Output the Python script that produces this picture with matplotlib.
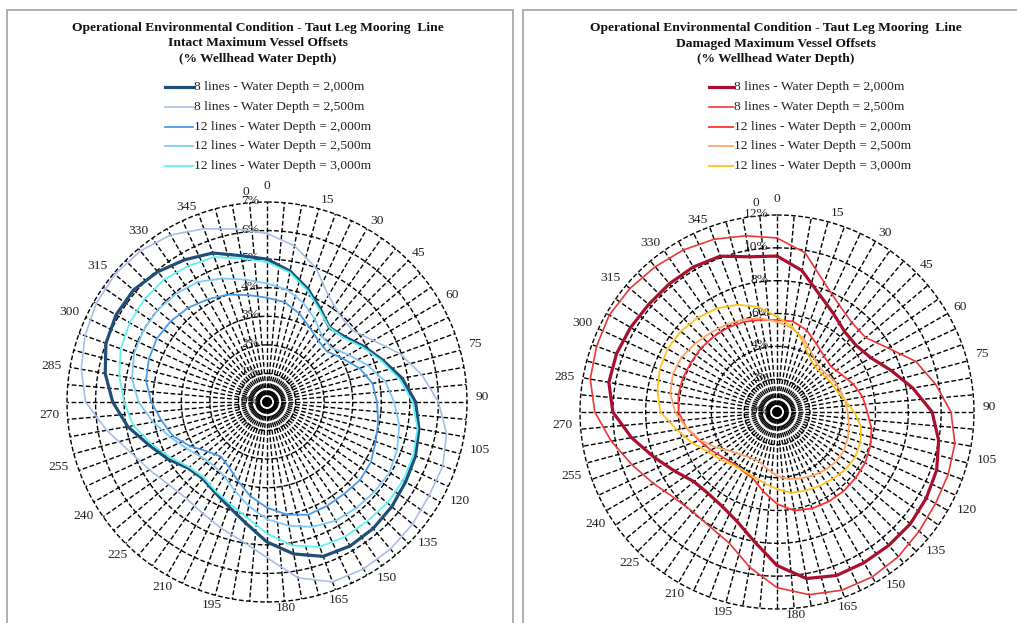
import numpy as np
import matplotlib
matplotlib.use("Agg")
import matplotlib.pyplot as plt
from matplotlib.lines import Line2D
from matplotlib.patches import Rectangle
from matplotlib.transforms import offset_copy

W, H, DPI = 1017, 623, 100
SERIF = ["Liberation Serif", "DejaVu Serif"]
FS = 9.7

# ---------------- data (offset, % of wellhead water depth) ----------------
angles_deg = list(range(0, 360, 10))
tick_angles = list(range(0, 360, 15))

intact_labels = ["8 lines - Water Depth = 2,000m", "8 lines - Water Depth = 2,500m",
                 "12 lines - Water Depth = 2,000m", "12 lines - Water Depth = 2,500m",
                 "12 lines - Water Depth = 3,000m"]
damaged_labels = ["8 lines - Water Depth = 2,000m", "8 lines - Water Depth = 2,500m",
                  "12 lines - Water Depth = 2,000m", "12 lines - Water Depth = 2,500m",
                  "12 lines - Water Depth = 3,000m"]

intact_8_2000 = [5.0, 4.65, 4.2, 3.75, 3.4, 3.55, 3.9, 4.3, 4.8, 5.2, 5.4, 5.53,
                 5.6, 5.7, 5.78, 5.82, 5.75, 5.4, 4.9, 4.3, 3.9, 3.65, 3.5, 3.6,
                 4.0, 4.4, 4.95, 5.4, 5.75, 6.0, 6.1, 6.1, 5.95, 5.75, 5.55, 5.2]
intact_8_2500 = [5.9, 5.55, 5.0, 4.3, 3.97, 3.9, 4.3, 4.95, 5.5, 6.0, 6.38, 6.55,
                 6.55, 6.65, 6.72, 6.75, 6.7, 6.25, 5.45, 4.95, 4.7, 4.5, 4.4, 4.5,
                 4.75, 5.1, 5.7, 6.35, 6.6, 6.78, 6.9, 6.95, 6.9, 6.75, 6.45, 6.15]
intact_12_2000 = [3.65, 3.55, 3.3, 3.0, 2.8, 2.75, 3.05, 3.45, 3.75, 3.85, 3.95, 4.05,
                  4.2, 4.25, 4.2, 4.2, 4.2, 4.0, 3.7, 3.35, 2.95, 2.65, 2.5, 2.7,
                  3.1, 3.5, 3.75, 4.05, 4.3, 4.4, 4.45, 4.4, 4.3, 4.15, 4.0, 3.8]
intact_12_2500 = [4.15, 4.0, 3.7, 3.35, 3.0, 2.95, 3.3, 3.75, 4.2, 4.45, 4.7, 4.85,
                  4.95, 4.9, 4.85, 4.8, 4.65, 4.4, 4.1, 3.7, 3.3, 3.0, 2.9, 3.0,
                  3.25, 3.6, 4.05, 4.5, 4.8, 4.95, 5.0, 5.0, 4.95, 4.85, 4.6, 4.35]
intact_12_3000 = [4.9, 4.6, 4.15, 3.7, 3.4, 3.5, 3.85, 4.25, 4.7, 5.1, 5.35, 5.45,
                  5.5, 5.5, 5.45, 5.45, 5.4, 5.1, 4.6, 4.1, 3.8, 3.6, 3.45, 3.55,
                  3.9, 4.3, 4.75, 5.0, 5.25, 5.45, 5.55, 5.6, 5.6, 5.5, 5.4, 5.1]

damaged_8_2000 = [9.5, 8.75, 7.6, 6.9, 6.4, 6.3, 6.6, 7.4, 8.4, 9.45, 10.0, 10.35,
                  10.5, 10.6, 10.6, 10.6, 10.6, 10.3, 9.35, 8.0, 7.1, 6.65, 6.5, 6.6,
                  7.2, 8.0, 9.0, 10.0, 10.4, 10.4, 10.3, 10.2, 10.2, 10.2, 10.1, 9.6]
damaged_8_2500 = [10.6, 9.85, 8.4, 7.55, 7.1, 7.05, 7.8, 9.0, 9.8, 10.6, 11.0, 11.1,
                  11.15, 11.3, 11.5, 11.6, 11.55, 11.3, 10.7, 9.6, 8.5, 8.1, 7.95, 8.15,
                  8.7, 9.4, 10.25, 11.1, 11.55, 11.7, 11.8, 11.7, 11.55, 11.4, 11.2, 10.9]
damaged_12_2000 = [5.6, 5.6, 5.3, 4.8, 4.45, 4.3, 4.55, 4.95, 5.3, 5.5, 5.85, 6.05,
                   6.2, 6.25, 6.3, 6.3, 6.25, 6.1, 5.6, 4.9, 4.3, 4.15, 4.1, 4.3,
                   4.65, 5.05, 5.6, 6.0, 6.1, 6.1, 6.05, 6.05, 6.0, 5.95, 5.85, 5.7]
damaged_12_2500 = [5.5, 5.2, 4.75, 4.2, 3.8, 3.75, 3.95, 4.05, 4.2, 4.3, 4.45, 4.6,
                   4.7, 4.7, 4.6, 4.45, 4.3, 4.15, 3.9, 3.5, 3.2, 3.2, 3.4, 3.7,
                   4.3, 5.0, 5.6, 6.2, 6.6, 6.75, 6.7, 6.5, 6.3, 6.15, 6.0, 5.8]
damaged_12_3000 = [5.8, 5.3, 4.6, 3.9, 3.6, 3.6, 3.75, 3.85, 4.2, 4.7, 5.2, 5.4,
                   5.5, 5.45, 5.3, 5.2, 5.1, 5.0, 4.7, 4.4, 4.2, 4.1, 4.2, 4.5,
                   4.85, 5.5, 6.2, 7.1, 7.4, 7.6, 7.7, 7.65, 7.5, 7.3, 6.95, 6.5]

intact_series = [intact_8_2000, intact_8_2500, intact_12_2000, intact_12_2500, intact_12_3000]
damaged_series = [damaged_8_2000, damaged_8_2500, damaged_12_2000, damaged_12_2500, damaged_12_3000]

intact_colors = ["#1F4E79", "#A9BDE8", "#4A9BE6", "#7FCBF7", "#5FF3F0"]
damaged_colors = ["#A8102E", "#E8383A", "#FF3434", "#FFA564", "#FFC21E"]
widths = [2.3, 1.2, 1.3, 1.3, 1.3]

titles_intact = ["Operational Environmental Condition - Taut Leg Mooring  Line",
                 "Intact Maximum Vessel Offsets", "(% Wellhead Water Depth)"]
titles_damaged = ["Operational Environmental Condition - Taut Leg Mooring  Line",
                  "Damaged Maximum Vessel Offsets", "(% Wellhead Water Depth)"]

# where the category labels sit (display angle, px beyond the outer ring)
label_angle_pos = [0, 16.8, 31.2, 45.5, 60.1, 74.3, 88.6, 102.8, 117.2, 131.2,
                   145.6, 160.0, 174.7, 195.2, 209.5, 224.2, 238.3, 252.6,
                   266.5, 279.5, 294.6, 308.8, 323.2, 337.6]
label_gap_px = [16, 11, 12, 13, 14, 16, 15, 18, 17, 14, 13, 11, 7, 10, 12, 14,
                16, 18, 18, 18, 17, 17, 14, 11]

# ---------------- figure ----------------
fig = plt.figure(figsize=(W / DPI, H / DPI), dpi=DPI)
fig.patch.set_facecolor("white")


def fx(x):
    return x / W


def fy(y):
    return 1 - y / H


# panel borders
for (x0, y0, x1, y1) in [(7, 10, 513, 640), (523, 10, 1030, 640)]:
    fig.add_artist(Rectangle((fx(x0), fy(y1)), (x1 - x0) / W, (y1 - y0) / H,
                             transform=fig.transFigure, fill=False,
                             ec="#A8A8A8", lw=1.3))


def radar(cx, cy, R, rmax, rstep, series, colors, labels, titles, title_cx,
          leg_x, leg_len, stray0):
    ax = fig.add_axes([fx(cx - R), fy(cy + R), 2 * R / W, 2 * R / H],
                      projection="polar")
    ax.set_theta_zero_location("N")
    ax.set_theta_direction(-1)
    ax.set_ylim(0, rmax)
    ax.grid(False)
    ax.spines["polar"].set_visible(False)
    ax.set_xticks([])
    ax.set_yticks([])
    ax.patch.set_alpha(0)

    dash = (0, (3.4, 1.7))
    for a in range(0, 360, 5):
        t = np.deg2rad(a)
        ax.plot([t, t], [0, rmax], color="black", lw=1.0, ls=dash,
                zorder=1, clip_on=False)
    th = np.linspace(0, 2 * np.pi, 721)
    for r in np.arange(rstep, rmax + 1e-9, rstep):
        ax.plot(th, np.full_like(th, r), color="black", lw=1.0, ls=dash,
                zorder=1, clip_on=False)

    # angular (category) labels
    for a, pa, gap in zip(tick_angles, label_angle_pos, label_gap_px):
        ax.text(np.deg2rad(pa), rmax * (R + gap) / R, str(a), ha="center",
                va="center", fontsize=FS, family=SERIF, color="#222222",
                clip_on=False)
    # radial labels
    tr = offset_copy(ax.transData, fig=fig, x=-8, y=1, units="dots")
    for r in np.arange(0, rmax + 1e-9, rstep):
        ax.text(0, r, f"{int(r)}%", transform=tr, ha="right", va="center",
                fontsize=FS, family=SERIF, color="#222222", zorder=2)
    fig.text(fx(stray0[0]), fy(stray0[1]), "0", ha="center", va="center",
             fontsize=FS, family=SERIF, color="#222222")

    # series
    ang = np.deg2rad(np.array(angles_deg + [angles_deg[0]]))
    for vals, col, lw in zip(series, colors, widths):
        v = np.array(list(vals) + [vals[0]])
        ax.plot(ang, v, color=col, lw=lw, zorder=3, clip_on=False,
                solid_joinstyle="round")

    # titles
    for i, t in enumerate(titles):
        fig.text(fx(title_cx), fy(28 + i * 15.5), t, ha="center", va="center",
                 fontsize=FS, fontweight="bold", family=SERIF, color="#111111")
    # legend
    rows = [87, 107, 127, 146, 166]
    for y, col, lw, lab in zip(rows, colors, widths, labels):
        fig.add_artist(Line2D([fx(leg_x), fx(leg_x + leg_len)], [fy(y), fy(y)],
                              transform=fig.transFigure, color=col, lw=lw))
        fig.text(fx(leg_x + leg_len + 1), fy(y), lab, ha="left", va="center",
                 fontsize=FS, family=SERIF, color="#222222")
    return ax


radar(267, 402, 200, 7, 1, intact_series, intact_colors, intact_labels,
      titles_intact, 258, 165, 28, (246, 192))
radar(777, 412, 197, 12, 2, damaged_series, damaged_colors, damaged_labels,
      titles_damaged, 776, 709, 24, (756, 203))

fig.savefig("out.png", dpi=DPI, facecolor="white")
